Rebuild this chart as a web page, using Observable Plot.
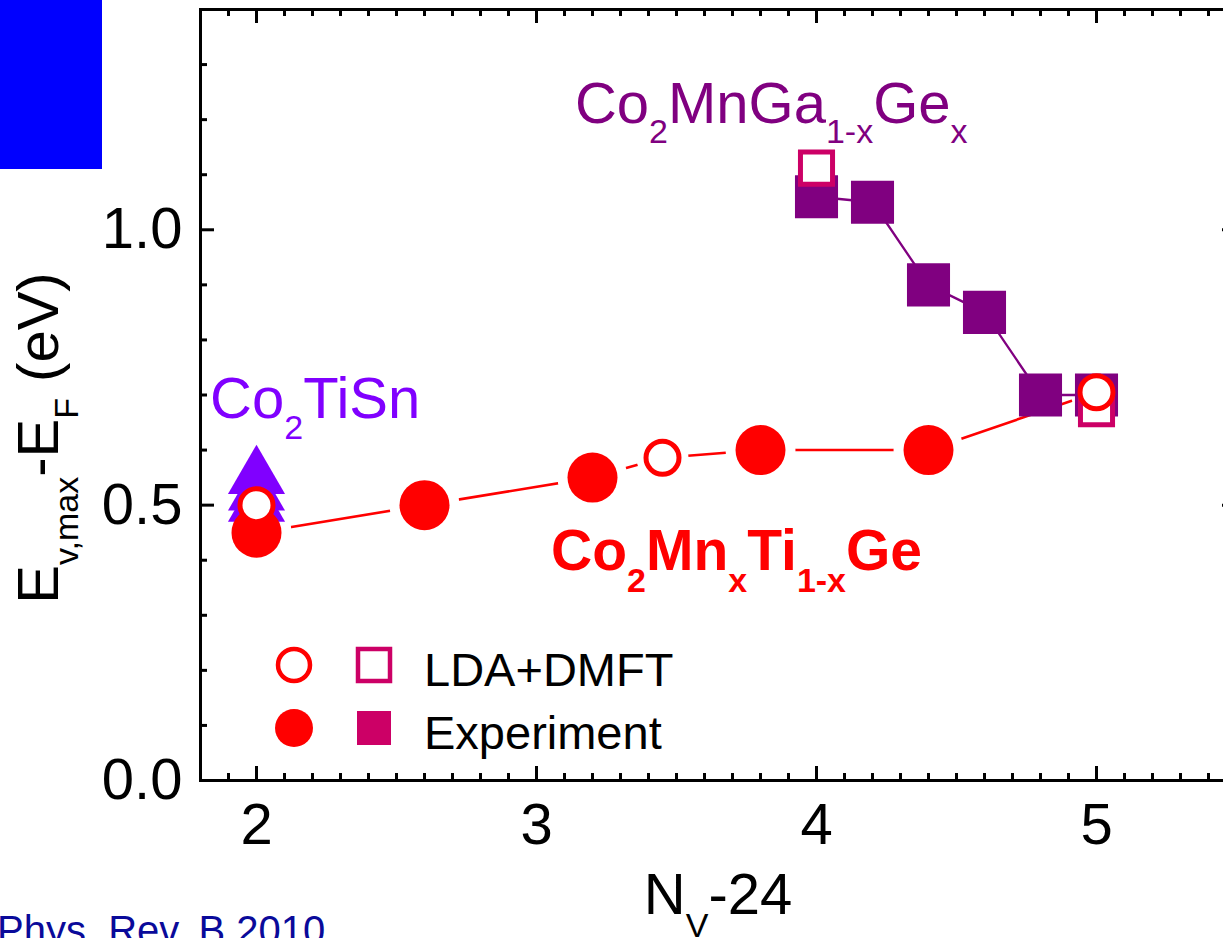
<!DOCTYPE html>
<html>
<head>
<meta charset="utf-8">
<script src="https://cdn.jsdelivr.net/npm/d3@7"></script>
<script src="https://cdn.jsdelivr.net/npm/@observablehq/plot@0.6"></script>
<style>
  html, body { margin: 0; padding: 0; background: #fff; overflow: hidden; }
  #wrap { position: relative; width: 1223px; height: 938px; overflow: hidden; }
  #wrap svg { position: absolute; left: 0; top: 0; max-width: none !important; width: 1240px !important; height: 938px !important; }
  #blue { position: absolute; left: 0; top: 0; width: 102px; height: 169px; background: #0000ff; }
</style>
</head>
<body>
<div id="wrap"></div>
<script>
// ---------- data ----------
const FONT = "'Liberation Sans', Arial, Helvetica, sans-serif";

// Co2MnxTi1-xGe (red circles)
const expCircX = [2.0, 2.6, 3.2, 3.8, 4.4];
const expCircY = [0.45, 0.50, 0.55, 0.60, 0.60];
const ldaCircX = [2.0, 3.45, 5.0];
const ldaCircY = [0.50, 0.586, 0.705];

// Co2MnGa1-xGex (squares)
const expSqX = [4.0, 4.2, 4.4, 4.6, 4.8, 5.0];
const expSqY = [1.06, 1.05, 0.90, 0.85, 0.70, 0.70];
const ldaSqX = [4.0, 5.0];
const ldaSqY = [1.112, 0.675];

// Co2TiSn (triangles)
const tiSnX = [2.0, 2.0, 2.0];
const tiSnY = [0.55, 0.52, 0.50];

// axis ticks
const xMajor = [2, 3, 4, 5];
const xTickLabels = ["2", "3", "4", "5"];
const yMajor = [0.0, 0.5, 1.0];
const yTickLabels = ["0.0", "0.5", "1.0"];

// ---------- tables ----------
const expCirc = expCircX.map((x, i) => ({x, y: expCircY[i], kind: "filled"}));
const ldaCirc = ldaCircX.map((x, i) => ({x, y: ldaCircY[i], kind: "open"}));
const expSq = expSqX.map((x, i) => ({x, y: expSqY[i]}));
const ldaSq = ldaSqX.map((x, i) => ({x, y: ldaSqY[i]}));
const tiSn = tiSnX.map((x, i) => ({x, y: tiSnY[i]}));
// the red guide line joins the experiment points and the DMFT points beyond x = 2
const redLine = [...expCirc, ...ldaCirc.filter(d => d.x > 2)].sort((a, b) => a.x - b.x);

const xMinor = d3.range(19, 55).map(v => v / 10).filter(v => !xMajor.some(m => Math.abs(m - v) < 1e-9));
const yMinor = d3.range(1, 14).map(v => v / 10).filter(v => !yMajor.some(m => Math.abs(m - v) < 1e-9));

// ---------- layout ----------
const W = 1240, H = 938, mL = 200, mR = 4, mT = 9, mB = 158;
const plotH = H - mT - mB;
const plotW = W - mL - mR;
const MAJ = 14, MIN = 7, TW = 3;

const RED = "#ff0000", PURPLE = "#800080", CRIMSON = "#cc0066", VIOLET = "#8000ff";

const chart = Plot.plot({
  width: W, height: H,
  marginLeft: mL, marginRight: mR, marginTop: mT, marginBottom: mB,
  style: {fontFamily: FONT, fontSize: "58px", background: "transparent", color: "black", maxWidth: "none"},
  x: {domain: [1.8, 5.5], axis: null, label: null},
  y: {domain: [0, 1.4], axis: null, label: null},
  marks: [
    Plot.line(redLine, {x: "x", y: "y", stroke: RED, strokeWidth: 2.6}),
    // white halos give the guide line its gaps around the symbols
    Plot.dot(redLine.filter(d => d.kind === "filled"), {x: "x", y: "y", r: 35, fill: "white", stroke: "none"}),
    Plot.dot(redLine.filter(d => d.kind === "open"), {x: "x", y: "y", r: 26, fill: "white", stroke: "none"}),
    Plot.line(expSq, {x: "x", y: "y", stroke: PURPLE, strokeWidth: 2.3}),
    Plot.dot(tiSn, {x: "x", y: "y", symbol: "triangle", r: 21.2, fill: VIOLET, stroke: "none"}),
    Plot.dot(expCirc, {x: "x", y: "y", r: 25, fill: RED, stroke: "none"}),
    Plot.dot(expSq, {x: "x", y: "y", symbol: "square", r: 24.3, fill: PURPLE, stroke: "none"}),
    Plot.dot(ldaSq, {x: "x", y: "y", symbol: "square", r: 18.1, fill: "white", stroke: CRIMSON, strokeWidth: 5}),
    Plot.dot(ldaCirc, {x: "x", y: "y", r: 16.5, fill: "white", stroke: RED, strokeWidth: 5}),
    // inward ticks: bottom / top
    Plot.tickX(xMajor, {x: d => d, insetTop: plotH - MAJ, stroke: "black", strokeWidth: TW}),
    Plot.tickX(xMinor, {x: d => d, insetTop: plotH - MIN, stroke: "black", strokeWidth: TW}),
    Plot.tickX(xMajor, {x: d => d, insetBottom: plotH - MAJ, stroke: "black", strokeWidth: TW}),
    Plot.tickX(xMinor, {x: d => d, insetBottom: plotH - MIN, stroke: "black", strokeWidth: TW}),
    // inward ticks: left / right
    Plot.tickY(yMajor, {y: d => d, insetRight: plotW - MAJ, stroke: "black", strokeWidth: TW}),
    Plot.tickY(yMinor, {y: d => d, insetRight: plotW - MIN, stroke: "black", strokeWidth: TW}),
    Plot.tickY(yMajor, {y: d => d, insetLeft: plotW - MAJ, stroke: "black", strokeWidth: TW}),
    Plot.tickY(yMinor, {y: d => d, insetLeft: plotW - MIN, stroke: "black", strokeWidth: TW}),
    Plot.frame({stroke: "black", strokeWidth: TW}),
    Plot.axisX({ticks: xMajor, tickSize: 0, tickPadding: 22, label: null, tickFormat: (d, i) => xTickLabels[i], fontSize: 58, fill: "black"}),
    Plot.axisY({ticks: yMajor, tickSize: 0, tickPadding: 18, label: null, tickFormat: (d, i) => yTickLabels[i], fontSize: 58, fill: "black"})
  ]
});

const wrap = document.getElementById("wrap");
wrap.appendChild(chart);
const blue = document.createElement("div");
blue.id = "blue";
wrap.appendChild(blue);

// ---------- rich text (subscripts) ----------
const sx = chart.scale("x"), sy = chart.scale("y");
const svg = d3.select(chart);

function rich(x, y, parts, {size, sub, shift, fill = "black", weight = "normal", anchor = "start", rotate = false}) {
  const t = svg.append("text")
    .attr("x", x).attr("y", y)
    .attr("fill", fill)
    .attr("font-family", FONT)
    .attr("font-size", size)
    .attr("font-weight", weight)
    .attr("text-anchor", anchor);
  if (rotate) t.attr("transform", `rotate(-90 ${x} ${y})`);
  let cur = 0;
  for (const [s, isSub] of parts) {
    const target = isSub ? shift : 0;
    t.append("tspan").attr("dy", target - cur).attr("font-size", isSub ? sub : size).text(s);
    cur = target;
  }
  return t;
}

// series annotations (anchored in data coordinates)
const annotations = [
  {x: 1.836, y: 0.657, parts: [["Co", 0], ["2", 1], ["TiSn", 0]], fill: VIOLET, weight: "normal", size: 58, sub: 34, shift: 21},
  {x: 3.139, y: 1.193, parts: [["Co", 0], ["2", 1], ["MnGa", 0], ["1-x", 1], ["Ge", 0], ["x", 1]], fill: PURPLE, weight: "normal", size: 58, sub: 34, shift: 20},
  {x: 3.054, y: 0.381, parts: [["Co", 0], ["2", 1], ["Mn", 0], ["x", 1], ["Ti", 0], ["1-x", 1], ["Ge", 0]], fill: RED, weight: "bold", size: 57, sub: 34, shift: 22}
];
for (const a of annotations) {
  rich(sx.apply(a.x), sy.apply(a.y), a.parts.map(([s, b]) => [s, !!b]),
       {size: a.size, sub: a.sub, shift: a.shift, fill: a.fill, weight: a.weight});
}

// axis titles
rich((mL + W - mR) / 2, 914, [["N", false], ["V", true], ["-24", false]], {size: 58, sub: 34, shift: 23, anchor: "middle"});
rich(58, 438, [["E", false], ["v,max", true], ["-E", false], ["F", true], [" (eV)", false]], {size: 58, sub: 34, shift: 20, anchor: "middle", rotate: true});

// legend
const lg = svg.append("g").attr("text-anchor", "start");
const legendRows = [
  {y: 665, label: "LDA+DMFT", open: true},
  {y: 728, label: "Experiment", open: false}
];
for (const row of legendRows) {
  if (row.open) {
    lg.append("circle").attr("cx", 294).attr("cy", row.y).attr("r", 16).attr("fill", "white").attr("stroke", RED).attr("stroke-width", 4.5);
    lg.append("rect").attr("x", 374 - 16).attr("y", row.y - 16).attr("width", 32).attr("height", 32).attr("fill", "white").attr("stroke", CRIMSON).attr("stroke-width", 4.5);
  } else {
    lg.append("circle").attr("cx", 294).attr("cy", row.y).attr("r", 19).attr("fill", RED);
    lg.append("rect").attr("x", 374 - 17).attr("y", row.y - 17).attr("width", 34).attr("height", 34).attr("fill", CRIMSON);
  }
  lg.append("text").attr("x", 424).attr("y", row.y + 21).attr("text-anchor", "start").attr("font-family", FONT).attr("font-size", 47).attr("fill", "black").text(row.label);
}

// citation (cut off at the bottom edge)
svg.append("text").attr("x", -3).attr("y", 944).attr("text-anchor", "start").attr("font-family", FONT).attr("font-size", 40).attr("fill", "#0a0a9a").text("Phys. Rev. B 2010");
</script>
</body>
</html>
